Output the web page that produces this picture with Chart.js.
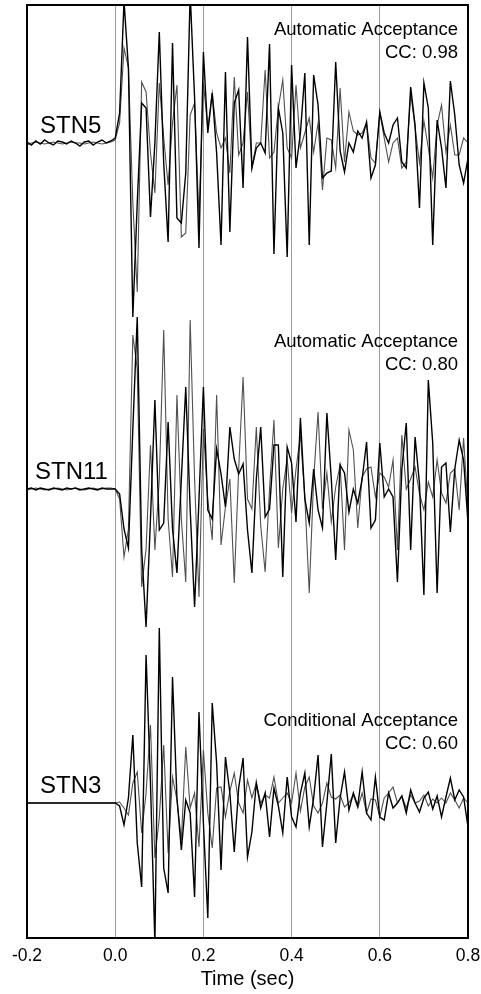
<!DOCTYPE html>
<html>
<head>
<meta charset="utf-8">
<script src="https://cdn.jsdelivr.net/npm/chart.js@4.4.1/dist/chart.umd.min.js"></script>
<style>
  html, body { margin: 0; padding: 0; background: #fff; }
  #wrap { width: 481px; height: 994px; }
</style>
</head>
<body>
<div id="wrap"><canvas id="waveBox" width="481" height="994"></canvas></div>
<script>
// sample times (sec), 100 samples per second
var times = [-0.20,-0.19,-0.18,-0.17,-0.16,-0.15,-0.14,-0.13,-0.12,-0.11,
  -0.10,-0.09,-0.08,-0.07,-0.06,-0.05,-0.04,-0.03,-0.02,-0.01,
  0.00,0.01,0.02,0.03,0.04,0.05,0.06,0.07,0.08,0.09,
  0.10,0.11,0.12,0.13,0.14,0.15,0.16,0.17,0.18,0.19,
  0.20,0.21,0.22,0.23,0.24,0.25,0.26,0.27,0.28,0.29,
  0.30,0.31,0.32,0.33,0.34,0.35,0.36,0.37,0.38,0.39,
  0.40,0.41,0.42,0.43,0.44,0.45,0.46,0.47,0.48,0.49,
  0.50,0.51,0.52,0.53,0.54,0.55,0.56,0.57,0.58,0.59,
  0.60,0.61,0.62,0.63,0.64,0.65,0.66,0.67,0.68,0.69,
  0.70,0.71,0.72,0.73,0.74,0.75,0.76,0.77,0.78,0.79,0.80];

var stations = ['STN5', 'STN11', 'STN3'];
var verdicts = ['Automatic Acceptance', 'Automatic Acceptance', 'Conditional Acceptance'];
var ccValues = ['0.98', '0.80', '0.60'];
// trace baselines on the (hidden) amplitude axis
var offsets = [795, 449, 135];
var xTicks = [-0.2, 0.0, 0.2, 0.4, 0.6, 0.8];

// observed (black) and synthetic (gray) traces
var stn5Obs = [1,-2,2,-1,3,0,-2,2,1,-1,2,0,-3,1,2,-2,1,3,0,2,
  5,30,142,75,-174,-60,40,35,-74,0,111,-20,-99,100,-75,-80,-30,150,45,-105,
  91,10,50,-10,-102,71,-89,40,53,-45,106,-25,-5,0,-10,99,-111,35,10,-114,
  78,-25,10,70,-102,68,38,-35,-30,-28,81,-8,-29,0,-9,12,5,21,-35,-22,
  31,10,0,18,25,-19,-25,56,18,-65,60,35,-102,23,-5,-45,62,28,-22,-40,-15];
var stn5Syn = [-2,0,1,0,-1,0,1,0,-1,0,1,0,0,-1,0,1,0,-1,0,1,
  3,20,95,75,-60,-149,61,51,-10,-50,60,5,-42,20,58,-94,-90,28,40,-75,
  60,15,50,10,-5,5,-30,66,-12,0,51,-25,0,0,73,-15,-9,35,63,-5,
  -15,58,-5,10,25,-9,20,-47,5,3,-25,55,-19,31,12,8,10,20,-15,-20,
  31,5,-19,0,5,-25,-19,50,15,-20,22,-5,-35,18,38,-9,18,-12,-12,5,0];

var stn11Obs = [0,1,-1,1,0,-1,1,0,-1,1,0,1,-1,0,1,0,-1,1,0,0,
  0,-5,-40,-59,60,172,-60,-138,-30,89,-41,-34,67,-40,-84,10,102,-20,-118,-10,
  102,-21,-30,40,15,-18,62,30,15,25,-41,-84,10,62,-28,-20,44,44,-88,42,
  26,-33,71,-10,-34,20,-21,-39,76,10,-71,24,16,-23,0,-14,10,47,-39,-31,
  46,-8,0,-8,-93,20,66,-61,52,5,-106,109,46,-104,22,26,-43,20,49,29,-34];
var stn11Syn = [-1,0,1,0,-1,0,0,1,0,-1,0,1,0,-1,0,1,0,0,1,1,
  0,-10,-68,-40,154,120,-98,-60,44,-61,10,159,-30,-88,94,-30,-93,169,10,-108,
  60,-10,-51,94,-56,-18,10,-94,20,112,-10,-20,62,-37,-83,0,69,-59,0,30,
  -24,20,54,-8,-104,10,77,-20,16,-33,2,24,-61,59,39,-39,12,20,22,-8,
  16,12,2,29,-61,54,0,10,22,-5,-21,7,-8,29,-4,-14,16,20,-21,51,-20];

var stn3Obs = [0,0,0,0,0,0,0,0,0,0,0,0,0,0,0,0,0,0,0,0,
  0,-3,-22,5,68,-40,-84,148,20,-140,175,-65,-90,126,5,-47,3,-10,-94,91,
  -20,-115,100,40,-67,46,10,-49,15,45,-54,-29,20,-5,10,-34,15,-3,-30,26,
  -14,-24,10,30,-24,5,48,-44,0,49,-40,5,31,-7,10,-3,31,-10,-17,26,
  -14,-17,10,-5,0,7,-10,13,0,-9,5,11,-6,7,-14,6,25,3,13,6,-24];
var stn3Syn = [0,0,0,0,0,0,0,0,0,0,0,0,0,0,0,0,0,0,0,0,
  0,1,-5,-12,20,31,-30,10,78,-55,-15,58,-50,26,3,-37,56,-5,10,-44,
  53,-10,-45,15,16,-14,12,30,0,-10,23,5,20,0,8,5,26,0,5,10,
  0,30,-8,16,26,-3,-10,0,20,6,4,8,-4,0,8,-5,10,-10,4,3,
  -14,5,10,16,0,7,-5,8,0,2,8,-3,4,0,5,0,10,3,-5,5,0];

var obsTraces = [stn5Obs, stn11Obs, stn3Obs];
var synTraces = [stn5Syn, stn11Syn, stn3Syn];

var FONT = "'Liberation Sans', Arial, Helvetica, sans-serif";

function toPoints(trace, base) {
	var pts = [];
	for (var i = 0; i < times.length; i++) {
		pts.push({ x: times[i], y: base + trace[i] });
	}
	return pts;
}

var datasets = [];
// black ones first so they end up on top
for (var s = 0; s < stations.length; s++) {
	datasets.push({
		label: stations[s] + ' observed',
		data: toPoints(obsTraces[s], offsets[s]),
		borderColor: '#000000',
		borderWidth: 1.4,
		pointRadius: 0,
		tension: 0
	});
}
for (var s = 0; s < stations.length; s++) {
	datasets.push({
		label: stations[s] + ' synthetic',
		data: toPoints(synTraces[s], offsets[s]),
		borderColor: '#505050',
		borderWidth: 1.1,
		pointRadius: 0,
		tension: 0
	});
}

// frame + station names + acceptance notes
var textPlugin = {
	id: 'textPlugin',
	afterDraw: function(chart) {
		var c = chart.ctx;
		var area = chart.chartArea;
		var ys = chart.scales.y;
		c.save();
		c.strokeStyle = '#000';
		c.lineWidth = 2;
		c.strokeRect(area.left, area.top, area.right - area.left, area.bottom - area.top);

		c.fillStyle = '#000';
		c.textBaseline = 'alphabetic';
		c.font = '24px ' + FONT;
		c.textAlign = 'left';
		var nameX = [40, 35, 40];
		for (var i = 0; i < stations.length; i++) {
			c.fillText(stations[i], nameX[i], ys.getPixelForValue(offsets[i]) - 10);
		}

		var noteY = [35, 347, 726];
		c.font = '18.5px ' + FONT;
		c.textAlign = 'right';
		for (var i = 0; i < verdicts.length; i++) {
			c.fillText(verdicts[i], area.right - 10, noteY[i]);
			c.fillText('CC: ' + ccValues[i], area.right - 10, noteY[i] + 23);
		}
		c.restore();
	}
};

var ctx = document.getElementById('waveBox');
var waveChart = new Chart(ctx, {
	type: 'line',
	data: { datasets: datasets },
	options: {
		responsive: false,
		animation: false,
		events: [],
		layout: { padding: { left: 27, right: 13, top: 5, bottom: 0 } },
		plugins: { legend: { display: false }, tooltip: { enabled: false } },
		scales: {
			x: {
				type: 'linear',
				min: -0.2,
				max: 0.8,
				afterBuildTicks: function(scale) {
					scale.ticks = xTicks.map(function(v) { return { value: v }; });
				},
				afterFit: function(scale) {
					scale.height = 56;
					scale.paddingLeft = 0;
					scale.paddingRight = 0;
				},
				border: { display: false },
				grid: {
					drawTicks: false,
					lineWidth: 1,
					color: function(c) {
						if (!c.tick) return 'rgba(0,0,0,0)';
						var v = c.tick.value;
						return (v < -0.15 || v > 0.75) ? 'rgba(0,0,0,0)' : '#9a9a9a';
					}
				},
				ticks: {
					padding: 8,
					color: '#000',
					font: { family: FONT, size: 17.5 },
					maxRotation: 0,
					callback: function(v) { return (Math.round(v * 10) / 10).toFixed(1); }
				},
				title: {
					display: true,
					text: 'Time (sec)',
					color: '#000',
					font: { family: FONT, size: 20 },
					padding: { top: 0, bottom: 3 }
				}
			},
			y: {
				type: 'linear',
				display: false,
				min: 0,
				max: 933
			}
		}
	},
	plugins: [textPlugin]
});
</script>
</body>
</html>
